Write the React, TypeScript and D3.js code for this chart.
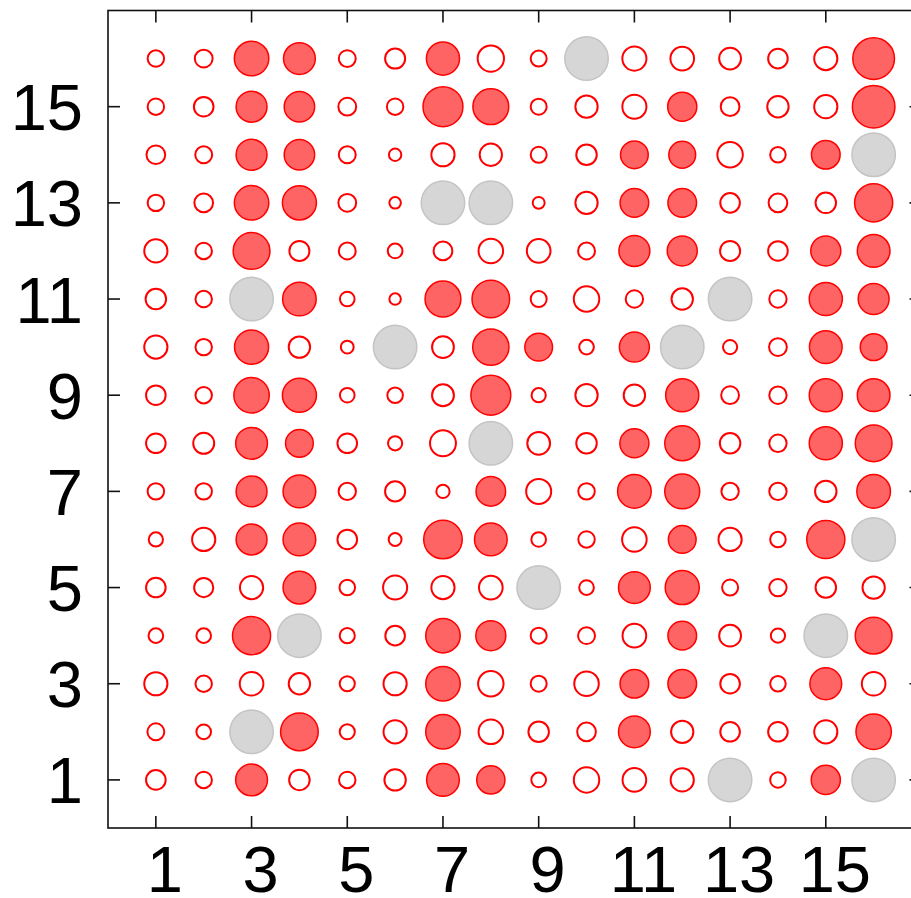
import React from 'react';
import * as d3 from 'd3';

const WIDTH = 911;
const HEIGHT = 898;

// Grid positions (columns left to right, rows top to bottom)
const columns = [1, 2, 3, 4, 5, 6, 7, 8, 9, 10, 11, 12, 13, 14, 15, 16];
const rows = [16, 15, 14, 13, 12, 11, 10, 9, 8, 7, 6, 5, 4, 3, 2, 1];
const tickValues = [1, 3, 5, 7, 9, 11, 13, 15];

// Cell values: positive = filled, negative = open, null = missing (grey)
const row16 = [-0.41, -0.44, 0.8, 0.74, -0.42, -0.49, 0.77, -0.63, -0.4, null, -0.58, -0.57, -0.53, -0.48, -0.56, 0.96];
const row15 = [-0.41, -0.48, 0.72, 0.71, -0.44, -0.41, 0.92, 0.83, -0.4, -0.54, -0.58, 0.68, -0.46, -0.52, -0.56, 0.98];
const row14 = [-0.46, -0.42, 0.72, 0.71, -0.42, -0.32, -0.56, -0.54, -0.4, -0.5, 0.65, 0.63, -0.61, -0.39, 0.67, null];
const row13 = [-0.41, -0.46, 0.8, 0.79, -0.44, -0.3, null, null, -0.31, -0.54, 0.67, 0.67, -0.48, -0.46, -0.5, 0.88];
const row12 = [-0.56, -0.41, 0.85, -0.49, -0.42, -0.37, -0.46, -0.59, -0.57, -0.42, 0.72, 0.7, -0.49, -0.48, 0.7, 0.76];
const row11 = [-0.5, -0.41, null, 0.78, -0.37, -0.3, 0.83, 0.87, -0.4, -0.61, -0.43, -0.52, null, -0.43, 0.77, 0.72];
const row10 = [-0.56, -0.41, 0.79, -0.52, -0.33, null, -0.53, 0.84, 0.65, -0.37, 0.7, null, -0.36, -0.44, 0.76, 0.63];
const row9 = [-0.48, -0.41, 0.82, 0.79, -0.37, -0.39, -0.53, 0.92, -0.36, -0.54, -0.52, 0.77, -0.44, -0.43, 0.77, 0.76];
const row8 = [-0.48, -0.51, 0.74, 0.65, -0.48, -0.36, -0.62, null, -0.55, -0.5, 0.68, 0.81, -0.5, -0.43, 0.77, 0.85];
const row7 = [-0.41, -0.41, 0.72, 0.76, -0.43, -0.49, -0.34, 0.69, -0.6, -0.41, 0.78, 0.81, -0.43, -0.43, -0.52, 0.78];
const row6 = [-0.36, -0.56, 0.72, 0.76, -0.48, -0.33, 0.89, 0.76, -0.37, -0.41, -0.59, 0.65, -0.56, -0.39, 0.88, null];
const row5 = [-0.48, -0.47, -0.56, 0.76, -0.39, -0.58, -0.56, -0.57, null, -0.37, 0.74, 0.79, -0.4, -0.43, -0.5, -0.54];
const row4 = [-0.37, -0.37, 0.88, null, -0.38, -0.48, 0.8, 0.7, -0.4, -0.42, -0.57, 0.67, -0.53, -0.36, null, 0.85];
const row3 = [-0.56, -0.41, -0.57, -0.52, -0.38, -0.56, 0.8, -0.61, -0.4, -0.59, 0.67, 0.67, -0.48, -0.39, 0.74, -0.57];
const row2 = [-0.42, -0.37, null, 0.87, -0.38, -0.56, 0.8, -0.59, -0.5, -0.46, 0.74, -0.54, -0.48, -0.48, -0.56, 0.82];
const row1 = [-0.48, -0.41, 0.74, -0.5, -0.41, -0.52, 0.76, 0.66, -0.37, -0.61, -0.57, -0.56, null, -0.39, 0.68, null];

const matrix: (number | null)[][] = [
  row16, row15, row14, row13, row12, row11, row10, row9,
  row8, row7, row6, row5, row4, row3, row2, row1,
];

const FONT = "'Liberation Sans', Arial, Helvetica, sans-serif";

export default function App() {
  const x = d3.scaleLinear().domain([0, 17]).range([108, 921.5]);
  const y = d3.scaleLinear().domain([0, 17]).range([828, 10.5]);
  const r = d3.scaleLinear().domain([0, 1]).range([0, 22.5]);

  const cells = rows.flatMap((row, i) =>
    columns.map((col, j) => ({ row, col, v: matrix[i][j] }))
  );

  const tickLen = 12;
  const [x0, x1] = x.range();
  const [y0, y1] = y.range();

  return (
    <svg
      width={WIDTH}
      height={HEIGHT}
      style={{ position: 'absolute', left: 0, top: 0, background: '#fff' }}
    >
      <rect x={0} y={0} width={WIDTH} height={HEIGHT} fill="#fff" />
      <g>
        {cells.map((c) => {
          const cx = x(c.col);
          const cy = y(c.row);
          if (c.v === null) {
            return (
              <circle key={`${c.row}-${c.col}`} cx={cx} cy={cy} r={r(1) - 0.75}
                fill="#d6d6d6" stroke="#c4c4c4" strokeWidth={1.5} />
            );
          }
          if (c.v > 0) {
            return (
              <circle key={`${c.row}-${c.col}`} cx={cx} cy={cy} r={r(c.v) - 0.75}
                fill="#ff6464" stroke="#ff0000" strokeWidth={1.5} />
            );
          }
          return (
            <circle key={`${c.row}-${c.col}`} cx={cx} cy={cy} r={r(-c.v) - 1}
              fill="#ffffff" stroke="#ff0000" strokeWidth={2} />
          );
        })}
      </g>
      <g stroke="#111" strokeWidth={1.6} fill="none">
        <rect x={x0} y={y1} width={x1 - x0} height={y0 - y1} />
        {tickValues.map((t) => (
          <g key={`t${t}`}>
            <line x1={x(t)} x2={x(t)} y1={y0} y2={y0 - tickLen} />
            <line x1={x(t)} x2={x(t)} y1={y1} y2={y1 + tickLen} />
            <line x1={x0} x2={x0 + tickLen} y1={y(t)} y2={y(t)} />
            <line x1={x1} x2={x1 - tickLen} y1={y(t)} y2={y(t)} />
          </g>
        ))}
      </g>
      <g fontFamily={FONT} fontSize={65} fill="#000">
        {tickValues.map((t) => (
          <text key={`xl${t}`} x={x(t) + 9} y={892} textAnchor="middle">{t}</text>
        ))}
        {tickValues.map((t) => (
          <text key={`yl${t}`} x={83} y={y(t) + 23.5} textAnchor="end">{t}</text>
        ))}
      </g>
    </svg>
  );
}
